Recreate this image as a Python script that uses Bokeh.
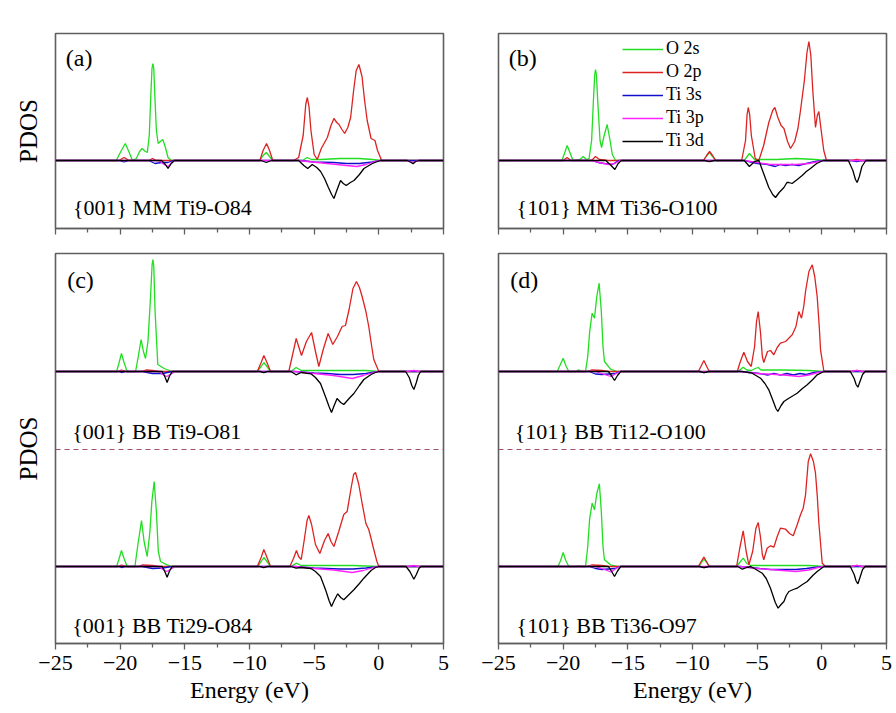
from bokeh.plotting import figure
from bokeh.models import Range1d, FixedTicker, Label, Span, Legend, LegendItem
from bokeh.layouts import column, row
from bokeh.embed import file_html
from bokeh.resources import INLINE

FONT = "Liberation Serif"

energy_ticks = [-25, -20, -15, -10, -5, 0, 5]
energy_minor = [-22.5, -17.5, -12.5, -7.5, -2.5, 2.5]
series_names = ["O 2s", "O 2p", "Ti 3s", "Ti 3p", "Ti 3d"]
series_colors = ["#22dd22", "#dd2222", "#1010cc", "#ff22ff", "#000000"]
panel_letters = ["(a)", "(b)", "(c)", "(d)"]
system_labels = ["{001} MM Ti9-O84", "{101} MM Ti36-O100",
                 "{001} BB Ti9-O81", "{001} BB Ti29-O84",
                 "{101} BB Ti12-O100", "{101} BB Ti36-O97"]

# ---------------- (a) {001} MM Ti9-O84 : (energy eV, PDOS a.u.) ----------------
a_O2s = [(-25, 0), (-20.3, 0), (-19.95, 0.9), (-19.6, 1.7), (-19.3, 0.8), (-19.05, 0), (-18.75, 0.2),
         (-18.5, 0.9), (-18.3, 1.2), (-18.05, 0.9), (-17.9, 0.8), (-17.75, 2.5), (-17.63, 6.5),
         (-17.54, 9.2), (-17.47, 9.7), (-17.4, 9.2), (-17.32, 6.5), (-17.2, 3.0), (-17.06, 1.7),
         (-16.9, 1.9), (-16.7, 2.1), (-16.5, 1.3), (-16.3, 0.3), (-16.05, 0), (-9.2, 0), (-8.95, 0.5),
         (-8.7, 0.8), (-8.45, 0.4), (-8.2, 0), (-5.9, 0), (-5.55, 0.3), (-5.2, 0.1), (-4.5, 0.1),
         (-3, 0.2), (-1.5, 0.2), (-0.5, 0.1), (0.2, 0), (5, 0)]
a_O2p = [(-25, 0), (-20.1, 0), (-19.7, 0.3), (-19.3, 0), (-17.8, 0), (-17.5, 0.2), (-17.2, 0), (-9.2, 0),
         (-8.95, 1.0), (-8.68, 1.7), (-8.45, 1.0), (-8.2, 0), (-6.6, 0), (-6.2, 0.3), (-5.85, 2.5),
         (-5.65, 5.6), (-5.53, 6.3), (-5.4, 5.4), (-5.25, 3.0), (-5.0, 0.6), (-4.76, 0.1), (-4.45, 1.2),
         (-3.98, 2.3), (-3.7, 3.5), (-3.47, 4.2), (-3.25, 3.8), (-3.08, 3.6), (-2.85, 3.1),
         (-2.64, 2.7), (-2.4, 3.3), (-2.18, 4.3), (-1.95, 7.0), (-1.75, 9.0), (-1.54, 9.6),
         (-1.3, 8.4), (-1.1, 6.0), (-0.9, 4.0), (-0.6, 2.2), (-0.3, 2.0), (-0.1, 1.0), (0.22, 0), (5, 0)]
a_Ti3s = [(-25, 0), (-20.1, 0), (-19.7, -0.15), (-19.3, 0), (-17.8, 0), (-17.3, -0.3), (-16.8, -0.2),
          (-16.3, -0.2), (-15.9, 0), (-6.0, 0), (-5.0, -0.15), (-3.5, -0.2), (-2.5, -0.3), (-1.5, -0.3),
          (-0.5, -0.15), (0.1, 0), (5, 0)]
a_Ti3p = [(-25, 0), (-17.0, 0), (-16.6, -0.4), (-16.3, -0.6), (-16.0, -0.2), (-15.8, 0), (-6.3, 0),
          (-5.5, -0.1), (-4.0, -0.3), (-2.5, -0.5), (-1.7, -0.6), (-1.0, -0.4), (-0.3, -0.1), (0.2, 0),
          (2.2, 0), (2.6, -0.2), (3.0, 0), (5, 0)]
a_Ti3d = [(-25, 0), (-16.8, 0), (-16.5, -0.4), (-16.3, -0.8), (-16.05, -0.3), (-15.8, 0), (-9.1, 0),
          (-8.7, -0.2), (-8.3, 0), (-6.2, 0), (-5.8, -0.5), (-5.5, -0.8), (-5.15, -0.4), (-4.8, -0.7),
          (-4.5, -1.1), (-4.2, -1.8), (-3.9, -2.7), (-3.65, -3.4), (-3.47, -3.8), (-3.25, -3.0),
          (-2.96, -2.0), (-2.75, -2.3), (-2.52, -2.5), (-2.2, -2.2), (-1.92, -2.0), (-1.5, -1.4),
          (-1.15, -0.8), (-0.5, -0.3), (0.11, 0), (2.2, 0), (2.5, -0.2), (2.65, -0.33), (2.85, -0.1),
          (3.1, 0), (5, 0)]

# ---------------- (b) {101} MM Ti36-O100 ----------------
b_O2s = [(-25, 0), (-20.1, 0), (-19.9, 0.7), (-19.69, 1.5), (-19.45, 0.7), (-19.24, 0), (-18.7, 0.1),
         (-18.45, 0.4), (-18.2, 0.1), (-18.0, 0.2), (-17.8, 2.0), (-17.66, 6.0), (-17.56, 8.6),
         (-17.5, 9.1), (-17.43, 8.6), (-17.33, 6.0), (-17.15, 2.0), (-17.03, 1.3), (-16.85, 2.4),
         (-16.6, 3.6), (-16.4, 2.2), (-16.2, 0.6), (-15.95, 0), (-9.15, 0), (-8.9, 0.5), (-8.68, 0.8),
         (-8.45, 0.4), (-8.2, 0), (-6.0, 0), (-5.6, 0.7), (-5.2, 0.1), (-3.5, 0.1), (-2.0, 0.2),
         (-0.5, 0.1), (0.3, 0), (5, 0)]
b_O2p = [(-25, 0), (-20.0, 0), (-19.7, 0.3), (-19.4, 0), (-17.8, 0), (-17.5, 0.4), (-17.2, 0.1),
         (-16.5, 0), (-9.15, 0), (-8.9, 0.5), (-8.68, 0.9), (-8.45, 0.5), (-8.2, 0), (-6.2, 0),
         (-5.9, 2.0), (-5.78, 4.6), (-5.69, 5.3), (-5.58, 4.6), (-5.45, 2.5), (-5.15, 0.2), (-4.87, 0),
         (-4.5, 1.5), (-4.1, 3.8), (-3.8, 5.0), (-3.63, 5.3), (-3.4, 4.3), (-3.15, 3.5), (-2.93, 3.2),
         (-2.65, 1.9), (-2.42, 1.2), (-2.1, 1.9), (-1.85, 3.2), (-1.65, 5.0), (-1.35, 8.0),
         (-1.15, 10.8), (-1.0, 11.9), (-0.85, 10.5), (-0.7, 7.0), (-0.49, 3.3), (-0.35, 4.5),
         (-0.23, 4.9), (-0.05, 3.0), (0.15, 1.0), (0.36, 0), (2.3, 0), (2.7, 0.1), (3.1, 0), (5, 0)]
b_Ti3s = [(-25, 0), (-17.8, 0), (-17.3, -0.2), (-16.8, -0.3), (-16.2, -0.4), (-15.7, 0), (-6.0, 0),
          (-5.0, -0.3), (-4.2, -0.4), (-3.6, -0.6), (-3.2, -0.4), (-2.8, -0.5), (-2.3, -0.4),
          (-1.8, -0.5), (-1.2, -0.3), (-0.5, -0.1), (0.1, 0), (2.3, 0), (2.7, -0.1), (3.1, 0), (5, 0)]
b_Ti3p = [(-25, 0), (-17.8, 0), (-17.2, -0.2), (-16.5, -0.4), (-16.0, -0.3), (-15.6, 0), (-6.0, 0),
          (-5.0, -0.2), (-4.0, -0.4), (-3.0, -0.4), (-2.0, -0.4), (-1.0, -0.3), (-0.2, -0.1), (0.2, 0),
          (5, 0)]
b_Ti3d = [(-25, 0), (-16.7, 0), (-16.3, -0.5), (-16.0, -0.9), (-15.75, -0.3), (-15.5, 0), (-9.1, 0),
          (-8.7, -0.1), (-8.3, 0), (-6.0, 0), (-5.6, -0.6), (-5.2, -0.1), (-4.87, 0), (-4.5, -1.3),
          (-4.1, -2.7), (-3.8, -3.4), (-3.58, -3.7), (-3.3, -3.2), (-2.93, -2.7), (-2.7, -2.2),
          (-2.55, -2.2), (-2.3, -2.3), (-1.9, -1.9), (-1.52, -1.5), (-1.2, -1.1), (-0.88, -0.8),
          (-0.4, -0.3), (0.1, 0), (2.05, 0), (2.4, -1.0), (2.6, -1.9), (2.73, -2.2), (2.9, -1.6),
          (3.1, -0.6), (3.4, 0), (5, 0)]

# ---------------- (c) upper: {001} BB Ti9-O81 ----------------
c1_O2s = [(-25, 0), (-20.28, 0), (-20.1, 0.8), (-19.9, 1.8), (-19.7, 0.9), (-19.46, 0), (-18.81, 0),
          (-18.6, 1.5), (-18.38, 3.2), (-18.2, 2.0), (-18.04, 1.3), (-17.85, 3.0), (-17.65, 7.5),
          (-17.53, 10.7), (-17.47, 11.2), (-17.4, 10.5), (-17.3, 6.0), (-17.09, 0.7), (-16.6, 0.3),
          (-15.98, 0), (-9.4, 0), (-9.1, 0.5), (-8.89, 0.9), (-8.65, 0.5), (-8.37, 0), (-6.8, 0),
          (-6.4, 0.4), (-6.0, 0.1), (-4.5, 0.1), (-3.0, 0.1), (-1.0, 0.1), (0.0, 0), (5, 0)]
c1_O2p = [(-25, 0), (-20.2, 0), (-19.9, 0.15), (-19.5, 0), (-18.4, 0), (-18.0, 0.15), (-17.5, 0.1),
          (-17.0, 0), (-9.4, 0), (-9.1, 0.9), (-8.89, 1.6), (-8.65, 0.9), (-8.37, 0), (-6.96, 0),
          (-6.7, 1.5), (-6.39, 3.3), (-6.2, 2.5), (-5.98, 1.6), (-5.6, 3.0), (-5.2, 3.9), (-4.9, 2.0),
          (-4.64, 0.5), (-4.3, 2.2), (-3.92, 3.8), (-3.56, 2.7), (-3.2, 3.5), (-2.84, 4.5),
          (-2.58, 4.6), (-2.3, 6.2), (-2.0, 8.3), (-1.73, 9.0), (-1.5, 8.4), (-1.29, 7.5), (-1.0, 6.0),
          (-0.78, 4.5), (-0.55, 2.5), (-0.39, 1.2), (0.0, 0), (5, 0)]
c1_Ti3s = [(-25, 0), (-20.1, 0), (-19.9, -0.1), (-19.6, 0), (-18.3, 0), (-17.5, -0.2), (-16.7, -0.2),
           (-16.0, 0), (-6.5, 0), (-5.0, -0.15), (-4.0, -0.2), (-3.0, -0.3), (-2.0, -0.3), (-1.0, -0.2),
           (-0.3, -0.05), (0.0, 0), (5, 0)]
c1_Ti3p = [(-25, 0), (-17.0, 0), (-16.7, -0.3), (-16.4, -0.5), (-16.0, -0.2), (-15.8, 0), (-6.5, 0),
           (-5.0, -0.2), (-3.5, -0.4), (-2.06, -0.7), (-1.2, -0.4), (-0.4, -0.1), (0.0, 0), (2.2, 0),
           (2.7, 0.1), (3.1, 0), (5, 0)]
c1_Ti3d = [(-25, 0), (-16.75, 0), (-16.55, -0.5), (-16.37, -1.1), (-16.2, -0.5), (-15.98, 0),
           (-9.2, 0), (-8.9, -0.1), (-8.6, 0), (-6.8, 0), (-6.4, -0.33), (-6.0, -0.1), (-5.25, -0.23),
           (-4.9, -0.6), (-4.51, -1.2), (-4.1, -2.6), (-3.85, -3.5), (-3.66, -4.1), (-3.45, -3.4),
           (-3.23, -2.7), (-2.95, -3.1), (-2.71, -3.3), (-2.3, -2.7), (-1.93, -2.2), (-1.5, -1.4),
           (-1.16, -0.8), (-0.6, -0.3), (-0.26, -0.1), (0.0, 0), (2.07, 0), (2.35, -0.6), (2.55, -1.4),
           (2.71, -1.8), (2.9, -1.1), (3.05, -0.4), (3.23, 0), (5, 0)]

# ---------------- (c) lower: {001} BB Ti29-O84 ----------------
c2_O2s = [(-25, 0), (-20.28, 0), (-20.1, 0.7), (-19.9, 1.6), (-19.7, 0.8), (-19.46, 0), (-18.86, 0),
          (-18.65, 2.0), (-18.35, 4.6), (-18.15, 2.5), (-17.91, 1.0), (-17.7, 3.5), (-17.55, 6.5),
          (-17.37, 8.5), (-17.2, 5.5), (-17.05, 1.5), (-16.88, 0.5), (-16.37, 0.17), (-15.98, 0),
          (-9.4, 0), (-9.1, 0.5), (-8.89, 0.9), (-8.65, 0.5), (-8.37, 0), (-6.8, 0), (-6.4, 0.33),
          (-6.0, 0.1), (-4.0, 0.1), (-2.0, 0.1), (0.0, 0), (5, 0)]
c2_O2p = [(-25, 0), (-20.2, 0), (-19.9, 0.15), (-19.5, 0), (-18.6, 0), (-18.3, 0.15), (-17.5, 0.1),
          (-17.0, 0), (-9.4, 0), (-9.1, 0.9), (-8.89, 1.7), (-8.65, 0.9), (-8.37, 0), (-6.88, 0),
          (-6.6, 0.8), (-6.37, 1.6), (-6.2, 1.0), (-6.0, 0.7), (-5.75, 2.8), (-5.55, 4.6), (-5.41, 5.1),
          (-5.2, 4.2), (-4.9, 2.2), (-4.56, 1.3), (-4.2, 2.6), (-3.92, 3.3), (-3.7, 2.5), (-3.47, 2.0),
          (-3.1, 3.5), (-2.71, 5.2), (-2.45, 5.5), (-2.15, 7.8), (-1.95, 9.2), (-1.8, 9.4),
          (-1.55, 8.2), (-1.29, 6.3), (-1.0, 4.3), (-0.78, 3.7), (-0.6, 2.8), (-0.39, 1.7),
          (-0.15, 0.5), (0.0, 0), (5, 0)]
c2_Ti3s = [(-25, 0), (-20.1, 0), (-19.9, -0.1), (-19.6, 0), (-18.3, 0), (-17.5, -0.2), (-16.7, -0.15),
           (-16.0, 0), (-6.5, 0), (-5.0, -0.15), (-4.0, -0.2), (-3.0, -0.25), (-2.0, -0.25),
           (-1.0, -0.15), (-0.3, -0.05), (0.0, 0), (5, 0)]
c2_Ti3p = [(-25, 0), (-17.0, 0), (-16.7, -0.3), (-16.4, -0.5), (-16.0, -0.2), (-15.8, 0), (-6.5, 0),
           (-5.0, -0.2), (-3.5, -0.35), (-2.06, -0.6), (-1.2, -0.4), (-0.4, -0.1), (0.0, 0), (2.2, 0),
           (2.7, 0.1), (3.1, 0), (5, 0)]
c2_Ti3d = [(-25, 0), (-16.75, 0), (-16.55, -0.5), (-16.37, -1.07), (-16.2, -0.5), (-15.98, 0),
           (-9.2, 0), (-8.9, -0.1), (-8.6, 0), (-6.8, 0), (-6.4, -0.17), (-6.0, -0.1), (-5.25, -0.2),
           (-4.9, -0.5), (-4.51, -1.0), (-4.1, -2.4), (-3.85, -3.4), (-3.66, -4.0), (-3.45, -3.4),
           (-3.18, -2.73), (-2.95, -3.1), (-2.71, -3.33), (-2.3, -2.8), (-1.93, -2.33), (-1.5, -1.7),
           (-1.16, -1.17), (-0.6, -0.4), (-0.26, -0.1), (0.0, 0), (2.1, 0), (2.4, -0.5), (2.6, -1.0),
           (2.71, -1.27), (2.9, -0.8), (3.1, -0.2), (3.25, 0), (5, 0)]

# ---------------- (d) upper: {101} BB Ti12-O100 ----------------
d1_O2s = [(-25, 0), (-20.46, 0), (-20.25, 0.6), (-20.0, 1.33), (-19.8, 0.6), (-19.56, 0), (-19.0, 0),
          (-18.8, 0.17), (-18.6, 0), (-18.27, 0), (-18.1, 1.5), (-17.95, 4.0), (-17.76, 5.83),
          (-17.58, 5.33), (-17.4, 7.5), (-17.22, 8.83), (-17.05, 6.0), (-16.92, 2.5), (-16.81, 1.0),
          (-16.34, 0.23), (-15.83, 0), (-6.5, 0), (-6.3, 0.2), (-6.08, 0.43), (-5.8, 0.15),
          (-5.46, 0.1), (-5.15, 0.3), (-4.92, 0.4), (-4.7, 0.15), (-3.0, 0.15), (-1.0, 0.1),
          (0.16, 0), (5, 0)]
d1_O2p = [(-25, 0), (-18.2, 0), (-17.8, 0.15), (-17.0, 0.1), (-16.5, 0), (-9.55, 0), (-9.35, 0.5),
          (-9.12, 1.1), (-8.9, 0.5), (-8.7, 0), (-6.54, 0), (-6.3, 1.0), (-6.03, 1.93), (-5.75, 1.0),
          (-5.46, 0.5), (-5.2, 2.5), (-5.05, 5.0), (-4.92, 6.0), (-4.75, 4.0), (-4.6, 1.5),
          (-4.49, 0.9), (-4.2, 2.0), (-3.97, 2.1), (-3.71, 1.67), (-3.45, 2.4), (-3.2, 2.83),
          (-2.8, 3.0), (-2.5, 3.4), (-2.29, 3.67), (-2.0, 4.5), (-1.78, 6.0), (-1.57, 5.33),
          (-1.4, 6.5), (-1.26, 8.0), (-1.0, 10.0), (-0.74, 10.67), (-0.55, 9.5), (-0.36, 7.5),
          (-0.2, 4.5), (-0.1, 2.17), (0.16, 0), (2.3, 0), (2.7, 0.1), (3.1, 0), (5, 0)]
d1_Ti3s = [(-25, 0), (-18.0, 0), (-17.5, -0.25), (-17.0, -0.3), (-16.5, -0.25), (-16.0, -0.2),
           (-15.6, 0), (-9.4, 0), (-9.1, -0.1), (-8.8, 0), (-6.3, 0), (-5.5, -0.1), (-4.8, -0.2),
           (-4.2, -0.35), (-3.7, -0.2), (-3.2, -0.35), (-2.7, -0.2), (-2.2, -0.35), (-1.7, -0.2),
           (-1.2, -0.3), (-0.6, -0.1), (0.16, 0), (5, 0)]
d1_Ti3p = [(-25, 0), (-17.5, 0), (-16.8, -0.3), (-16.3, -0.5), (-15.9, -0.2), (-15.6, 0), (-6.3, 0),
           (-5.0, -0.2), (-3.5, -0.3), (-2.5, -0.4), (-1.78, -0.5), (-1.0, -0.35), (-0.3, -0.1),
           (0.16, 0), (2.3, 0), (2.7, 0.12), (3.1, 0), (5, 0)]
d1_Ti3d = [(-25, 0), (-16.5, 0), (-16.25, -0.45), (-16.03, -0.9), (-15.8, -0.4), (-15.55, 0),
           (-9.5, 0), (-9.12, -0.1), (-8.7, 0), (-6.15, 0), (-5.38, -0.17), (-4.74, -0.67),
           (-4.4, -1.2), (-4.1, -1.83), (-3.75, -3.0), (-3.55, -3.7), (-3.4, -4.0), (-3.15, -3.4),
           (-2.93, -3.0), (-2.7, -2.8), (-2.55, -2.67), (-2.2, -2.4), (-1.91, -2.17), (-1.5, -1.7),
           (-1.13, -1.33), (-0.7, -0.8), (-0.36, -0.33), (0.16, 0), (2.2, 0), (2.5, -0.7),
           (2.65, -1.3), (2.79, -1.57), (2.95, -1.0), (3.15, -0.3), (3.35, 0), (5, 0)]

# ---------------- (d) lower: {101} BB Ti36-O97 ----------------
d2_O2s = [(-25, 0), (-20.4, 0), (-20.2, 0.6), (-20.0, 1.4), (-19.8, 0.6), (-19.56, 0), (-19.0, 0),
          (-18.8, 0.05), (-18.6, 0), (-18.27, 0), (-18.1, 2.0), (-17.95, 4.8), (-17.76, 6.33),
          (-17.58, 5.67), (-17.4, 7.3), (-17.2, 8.27), (-17.05, 5.5), (-16.92, 2.0), (-16.81, 0.67),
          (-16.34, 0.17), (-15.83, 0), (-9.5, 0), (-9.3, 0.4), (-9.12, 0.73), (-8.9, 0.4), (-8.7, 0),
          (-6.6, 0), (-6.35, 0.4), (-6.08, 0.83), (-5.8, 0.3), (-5.5, 0.1), (-3.0, 0.1), (-1.0, 0.1),
          (0.2, 0), (5, 0)]
d2_O2p = [(-25, 0), (-18.2, 0), (-17.8, 0.15), (-17.0, 0.1), (-16.5, 0), (-9.55, 0), (-9.35, 0.45),
          (-9.12, 0.93), (-8.9, 0.45), (-8.7, 0), (-6.59, 0), (-6.35, 1.8), (-6.08, 3.57),
          (-5.85, 1.5), (-5.64, 0.17), (-5.35, 1.5), (-5.1, 3.8), (-4.92, 4.4), (-4.75, 3.0),
          (-4.6, 1.2), (-4.49, 0.67), (-4.23, 1.83), (-3.97, 2.07), (-3.71, 1.93), (-3.45, 3.0),
          (-3.2, 3.83), (-2.8, 3.73), (-2.5, 3.3), (-2.21, 3.07), (-1.9, 4.2), (-1.65, 5.17),
          (-1.44, 5.83), (-1.26, 7.17), (-1.05, 10.5), (-0.87, 11.27), (-0.65, 10.5), (-0.49, 9.33),
          (-0.35, 7.0), (-0.23, 4.33), (0.03, 0.33), (0.29, 0), (2.3, 0), (2.7, 0.1), (3.1, 0), (5, 0)]
d2_Ti3s = [(-25, 0), (-18.0, 0), (-17.5, -0.2), (-17.0, -0.3), (-16.5, -0.25), (-16.0, -0.2),
           (-15.6, 0), (-9.4, 0), (-9.1, -0.1), (-8.8, 0), (-6.3, 0), (-5.5, -0.1), (-4.8, -0.2),
           (-4.0, -0.3), (-3.0, -0.3), (-2.0, -0.3), (-1.2, -0.2), (-0.6, -0.1), (0.16, 0), (5, 0)]
d2_Ti3p = [(-25, 0), (-17.5, 0), (-16.8, -0.3), (-16.3, -0.55), (-15.9, -0.2), (-15.6, 0), (-6.3, 0),
           (-5.0, -0.2), (-3.5, -0.35), (-2.0, -0.5), (-1.0, -0.35), (-0.3, -0.1), (0.16, 0),
           (2.3, 0), (2.7, 0.12), (3.1, 0), (5, 0)]
d2_Ti3d = [(-25, 0), (-16.5, 0), (-16.25, -0.5), (-16.03, -1.0), (-15.8, -0.45), (-15.55, 0),
           (-9.5, 0), (-9.12, -0.1), (-8.7, 0), (-6.5, 0), (-6.15, -0.27), (-5.8, -0.1), (-5.5, 0),
           (-5.12, -0.27), (-4.61, -0.67), (-4.3, -1.2), (-3.97, -2.17), (-3.6, -3.6), (-3.38, -4.17),
           (-3.15, -3.8), (-2.93, -3.5), (-2.75, -2.9), (-2.55, -2.5), (-2.2, -2.3), (-1.91, -2.17),
           (-1.5, -1.8), (-1.13, -1.5), (-0.7, -0.9), (-0.36, -0.5), (0.16, 0), (2.2, 0), (2.5, -0.8),
           (2.65, -1.45), (2.79, -1.73), (2.95, -1.1), (3.15, -0.3), (3.35, 0), (5, 0)]

panel_a = [a_O2s, a_O2p, a_Ti3s, a_Ti3p, a_Ti3d]
panel_b = [b_O2s, b_O2p, b_Ti3s, b_Ti3p, b_Ti3d]
panel_c_upper = [c1_O2s, c1_O2p, c1_Ti3s, c1_Ti3p, c1_Ti3d]
panel_c_lower = [c2_O2s, c2_O2p, c2_Ti3s, c2_Ti3p, c2_Ti3d]
panel_d_upper = [d1_O2s, d1_O2p, d1_Ti3s, d1_Ti3p, d1_Ti3d]
panel_d_lower = [d2_O2s, d2_O2p, d2_Ti3s, d2_Ti3p, d2_Ti3d]

# ---------------- layout constants ----------------
TOP_Y = (-6.8, 12.7)          # y range of the single panels (a), (b)
BOT_Y = (-7.7, 31.3)          # y range of the stacked panels (c), (d)
UPPER_SHIFT = 19.5            # baseline of upper sub-panel in (c), (d)
DIVIDER_Y = 11.7
FRAME_COLOR = "#5f5f5f"


def make_fig(width, height, y_rng, left, right, top, bottom, show_xlabels, ylabel):
    p = figure(width=width, height=height, output_backend="svg", toolbar_location=None,
               x_range=Range1d(-25, 5), y_range=Range1d(*y_rng),
               min_border_left=left, min_border_right=right,
               min_border_top=top, min_border_bottom=bottom)
    p.xgrid.visible = False
    p.ygrid.visible = False
    p.outline_line_color = FRAME_COLOR
    p.outline_line_width = 1.6
    p.background_fill_color = "white"
    p.border_fill_color = "white"
    xa = p.xaxis[0]
    xa.ticker = FixedTicker(ticks=energy_ticks, minor_ticks=energy_minor)
    xa.axis_line_color = FRAME_COLOR
    xa.axis_line_width = 1.6
    xa.major_tick_line_color = FRAME_COLOR
    xa.minor_tick_line_color = FRAME_COLOR
    xa.major_tick_line_width = 1.3
    xa.minor_tick_line_width = 1.3
    xa.major_tick_in = 0
    xa.major_tick_out = 6
    xa.minor_tick_in = 0
    xa.minor_tick_out = 4
    if show_xlabels:
        xa.major_label_text_font = FONT
        xa.major_label_text_font_size = "22px"
        xa.major_label_text_color = "black"
        xa.major_label_standoff = 6
        xa.axis_label = "Energy (eV)"
        xa.axis_label_text_font = FONT
        xa.axis_label_text_font_size = "24px"
        xa.axis_label_text_font_style = "normal"
        xa.axis_label_text_color = "black"
        xa.axis_label_standoff = 4
    else:
        xa.major_label_text_font_size = "0px"
        xa.major_label_text_color = None
        xa.major_label_standoff = 0
    ya = p.yaxis[0]
    if ylabel:
        ya.ticker = FixedTicker(ticks=[])
        ya.axis_line_color = None
        ya.major_tick_line_color = None
        ya.minor_tick_line_color = None
        ya.major_label_text_font_size = "0px"
        ya.major_label_text_color = None
        ya.axis_label = ylabel
        ya.axis_label_text_font = FONT
        ya.axis_label_text_font_size = "25px"
        ya.axis_label_text_font_style = "normal"
        ya.axis_label_text_color = "black"
        ya.axis_label_standoff = 14
    else:
        ya.visible = False
    return p


def draw(p, curves, shift=0.0):
    rends = []
    for pts, color in zip(curves, series_colors):
        xs = [e for e, _ in pts]
        ys = [v + shift for _, v in pts]
        rends.append(p.line(xs, ys, line_color=color, line_width=1.3))
    return rends


def add_text(p, x, y, text, size):
    p.add_layout(Label(x=x, y=y, text=text, text_font=FONT, text_font_size=size,
                       text_baseline="middle", text_align="left", text_color="black"))


fa = make_fig(453, 240, TOP_Y, 55, 10, 33, 12, False, "PDOS")
fb = make_fig(439, 240, TOP_Y, 45, 6, 33, 12, False, None)
fc = make_fig(453, 469, BOT_Y, 55, 10, 13, 66, True, "PDOS")
fd = make_fig(439, 469, BOT_Y, 45, 6, 13, 66, True, None)

draw(fa, panel_a)
rb = draw(fb, panel_b)
draw(fc, panel_c_upper, UPPER_SHIFT)
draw(fc, panel_c_lower)
draw(fd, panel_d_upper, UPPER_SHIFT)
draw(fd, panel_d_lower)

for p in (fc, fd):
    p.add_layout(Span(location=DIVIDER_Y, dimension="width", line_color="#a0506e",
                      line_width=1.2, line_dash="5 4"))

add_text(fa, -24.2, 10.25, panel_letters[0], "24px")
add_text(fb, -24.2, 10.25, panel_letters[1], "24px")
add_text(fc, -24.1, 28.7, panel_letters[2], "24px")
add_text(fd, -24.1, 28.7, panel_letters[3], "24px")

add_text(fa, -23.65, -4.7, system_labels[0], "22px")
add_text(fb, -23.6, -4.7, system_labels[1], "22px")
add_text(fc, -23.7, 13.5, system_labels[2], "22px")
add_text(fc, -23.7, -5.9, system_labels[3], "22px")
add_text(fd, -23.75, 13.5, system_labels[4], "22px")
add_text(fd, -23.6, -5.9, system_labels[5], "22px")

legend = Legend(items=[LegendItem(label=n, renderers=[r]) for n, r in zip(series_names, rb)],
                location=(124, 77), orientation="vertical",
                label_text_font=FONT, label_text_font_size="18px", label_text_color="black",
                glyph_width=41, glyph_height=20, label_height=20, label_standoff=3,
                spacing=2, padding=0, margin=0, border_line_color=None,
                background_fill_alpha=0)
fb.add_layout(legend)

layout = column(row(fa, fb), row(fc, fd))
open("out.html", "w").write(file_html(layout, INLINE))
